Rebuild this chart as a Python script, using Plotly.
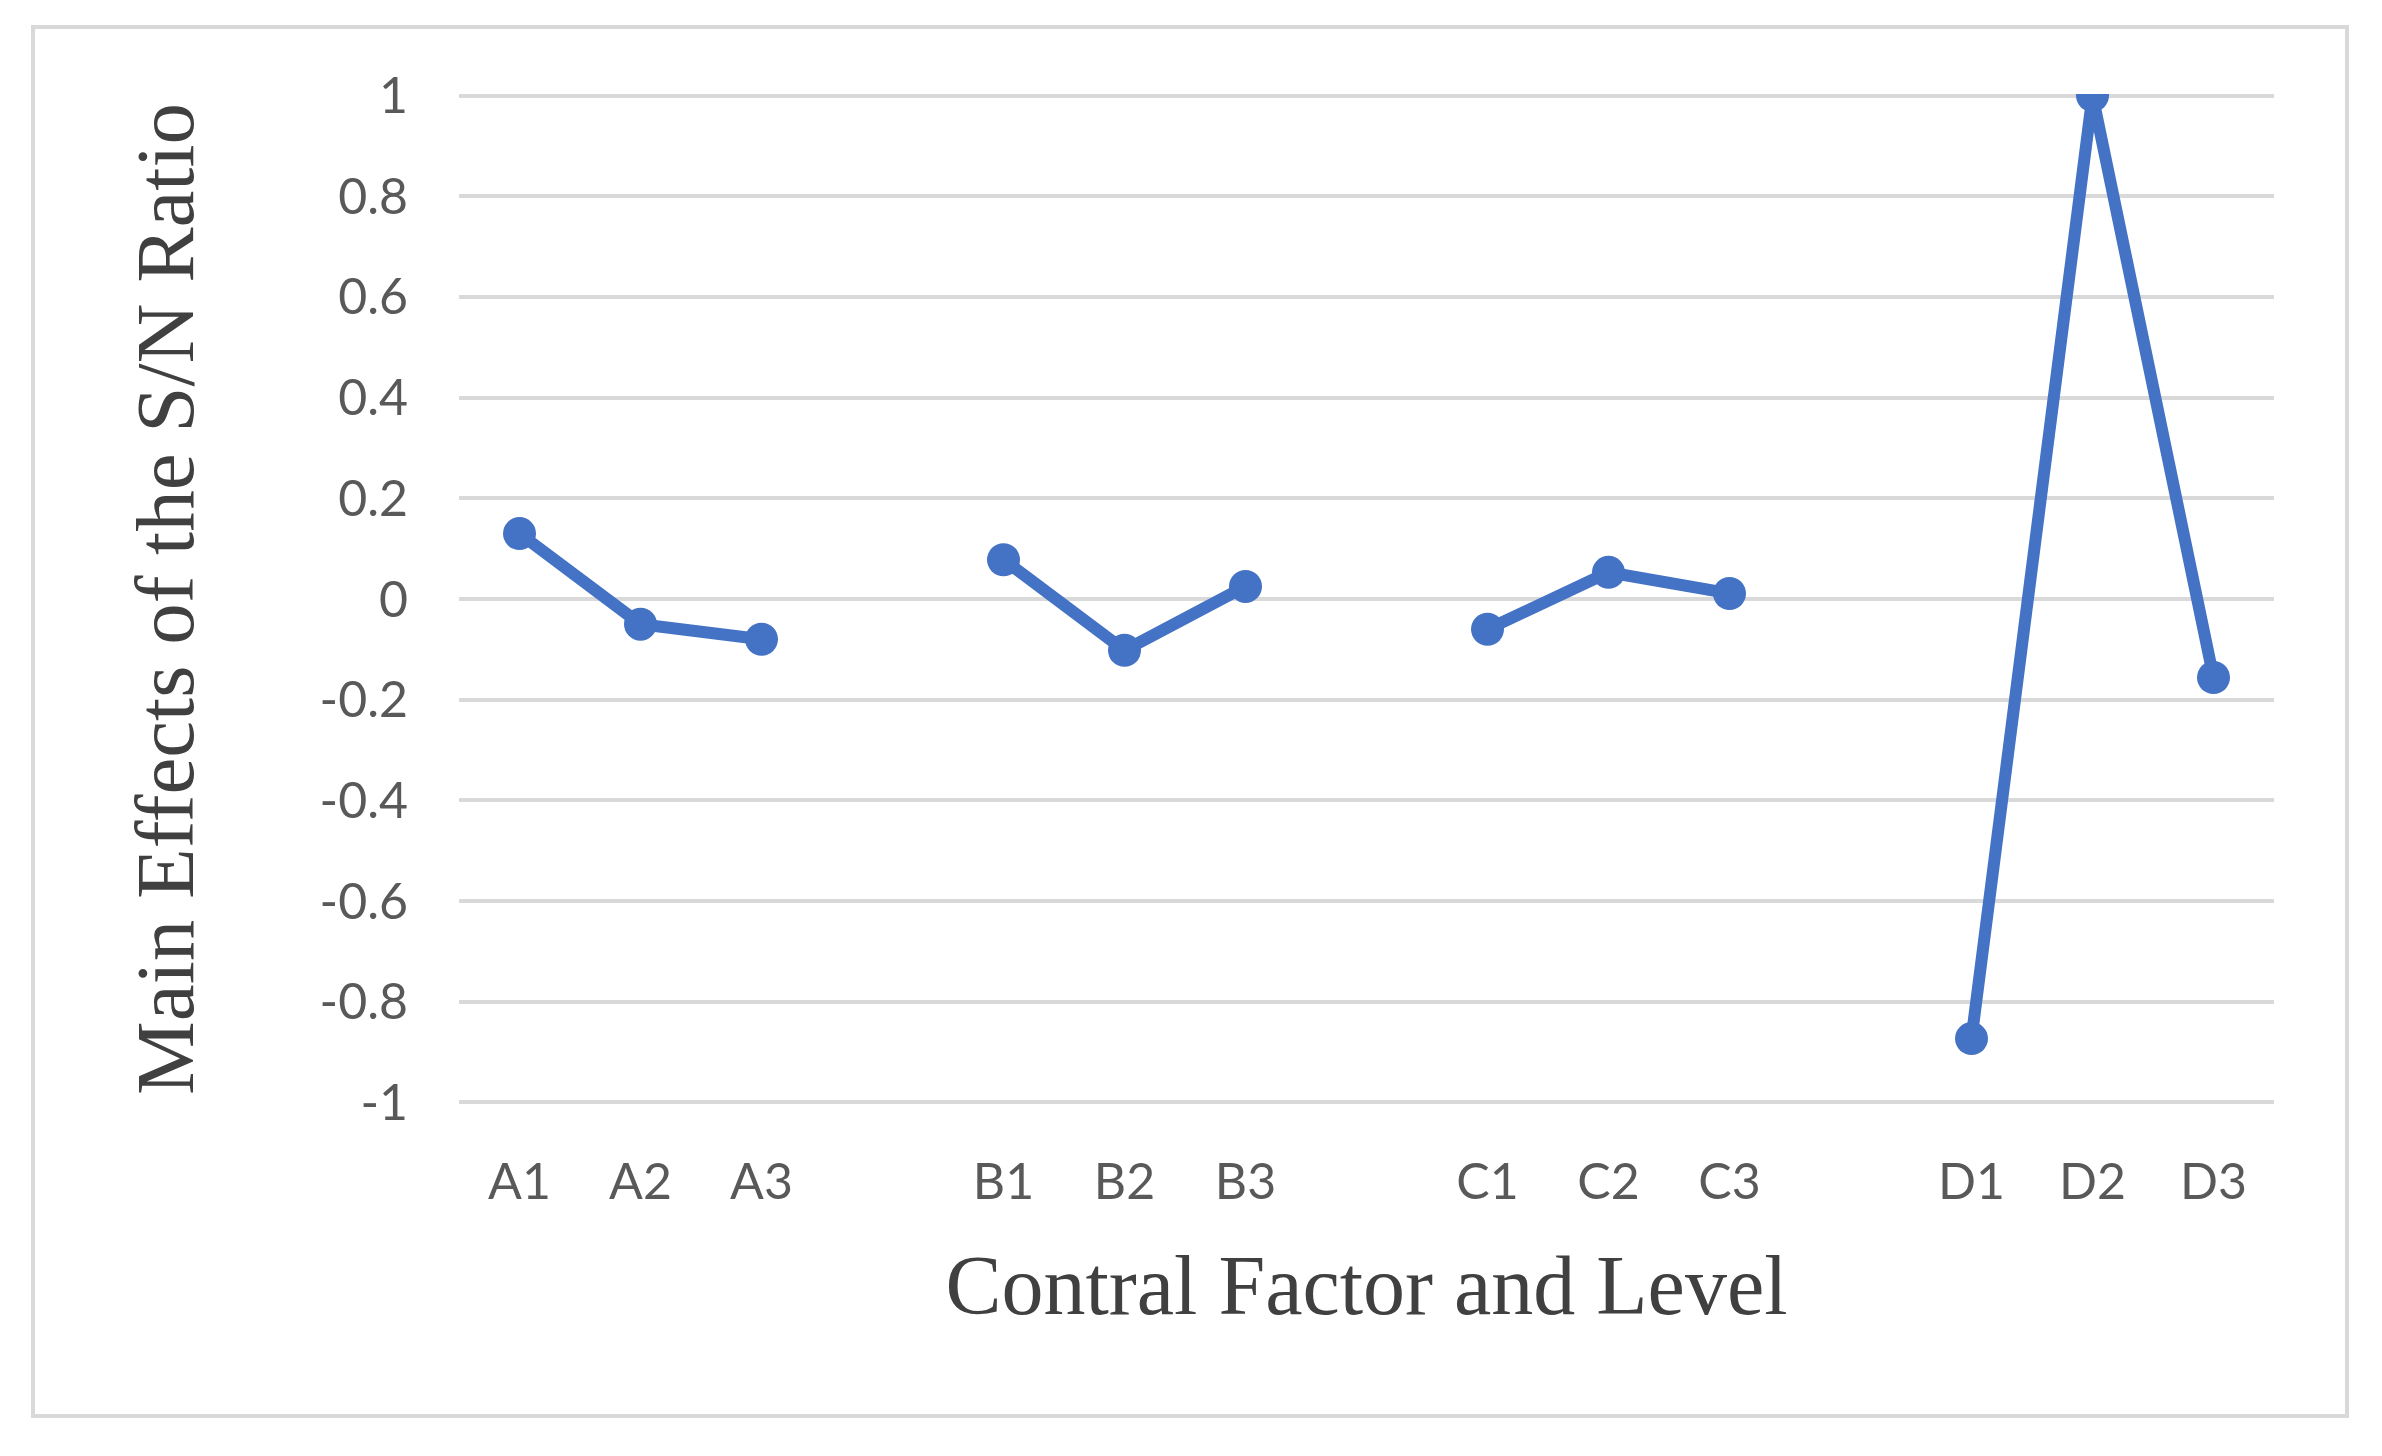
import plotly.graph_objects as go

categories = ["A1", "A2", "A3", " ", "B1", "B2", "B3", "  ", "C1", "C2", "C3", "   ", "D1", "D2", "D3"]
values = [0.13, -0.05, -0.08, None, 0.078, -0.102, 0.025, None, -0.06, 0.053, 0.011, None, -0.873, 1.0, -0.156]
y_ticks = [1, 0.8, 0.6, 0.4, 0.2, 0, -0.2, -0.4, -0.6, -0.8, -1]
y_tick_labels = ["1", "0.8", "0.6", "0.4", "0.2", "0", "-0.2", "-0.4", "-0.6", "-0.8", "-1"]

# page is offset by the default 8px body margin
OFF = 8
W, H = 2382 - 2 * OFF, 1456 - 2 * OFF
L = 459 - OFF
T = 94 - OFF
plot_right = 2274 - OFF
plot_bottom = 1104 - OFF
R = W - plot_right
B = H - plot_bottom
pw, ph = W - L - R, H - T - B

fig = go.Figure()
fig.add_trace(go.Scatter(
    x=categories, y=values, mode="lines+markers",
    line=dict(color="#4472C4", width=12),
    marker=dict(color="#4472C4", size=33),
    connectgaps=False, showlegend=False,
))

def px(x):
    return (x - OFF - L) / pw

def py(y):
    return 1 - (y - OFF - T) / ph

fig.add_shape(type="rect", xref="paper", yref="paper",
              x0=px(33), x1=px(2347), y0=py(1416), y1=py(27),
              line=dict(color="#d9d9d9", width=4), layer="below")

fig.update_layout(
    width=W, height=H,
    margin=dict(l=L, r=R, t=T, b=B, autoexpand=False),
    plot_bgcolor="white", paper_bgcolor="white",
    font=dict(family="Lato", color="#595959"),
)
fig.update_xaxes(
    type="category", categoryorder="array", categoryarray=categories,
    range=[-0.5, 14.5], showgrid=False, zeroline=False, showline=False,
    tickfont=dict(size=50, family="Lato", color="#595959"),
    ticks="", ticklabelstandoff=44,
    title=dict(text="Contral Factor and Level",
               font=dict(family="Liberation Serif", size=84, color="#404040"),
               standoff=46),
)
fig.update_yaxes(
    range=[-1.003, 1.003], tickvals=y_ticks, ticktext=y_tick_labels,
    showgrid=True, gridcolor="#d9d9d9", gridwidth=4, zeroline=False, showline=False,
    tickfont=dict(size=50, family="Lato", color="#595959"),
    ticks="", ticklabelstandoff=50,
    title=dict(text="Main Effects of the S/N Ratio",
               font=dict(family="Liberation Serif", size=83, color="#404040"),
               standoff=98),
)

fig.write_html("out.html")
